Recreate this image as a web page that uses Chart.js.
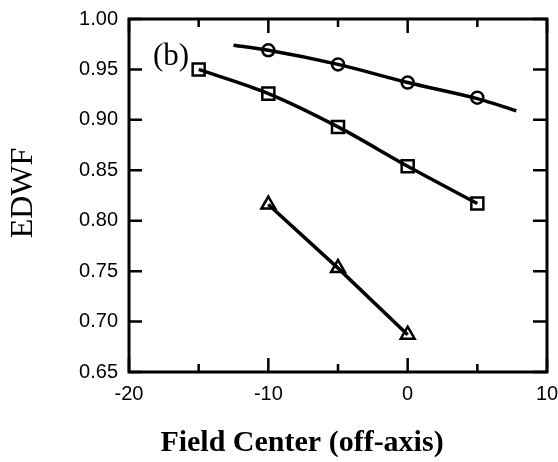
<!DOCTYPE html>
<html>
<head>
<meta charset="utf-8">
<script src="https://cdn.jsdelivr.net/npm/chart.js@4/dist/chart.umd.min.js"></script>
<style>
  html, body { margin: 0; padding: 0; background: #fff; }
  .chart-container { width: 558px; height: 462px; }
</style>
</head>
<body>
<div class="chart-container"><canvas id="chart" width="558" height="462"></canvas></div>
<script>
// data
const circleX = [-10, -5, 0, 5]
const circleY = [0.969, 0.955, 0.937, 0.922]
const circleCurveX = [-12.5, -10, -5, 0, 5, 7.8]
const circleCurveY = [0.974, 0.969, 0.955, 0.937, 0.921, 0.909]
const squareX = [-15, -10, -5, 0, 5]
const squareY = [0.950, 0.926, 0.893, 0.854, 0.817]
const triangleX = [-10, -5, 0]
const triangleY = [0.816, 0.753, 0.687]

const xMajorTicks = [-20, -10, 0, 10]
const xMinorTicks = [-15, -5, 5]
const yTicks = [0.65, 0.70, 0.75, 0.80, 0.85, 0.90, 0.95, 1.00]

const xTitle = "Field Center (off-axis)"
const yTitle = "EDWF"
const panelLabel = "(b)"

const pts = (xs, ys) => xs.map((x, i) => ({x: x, y: ys[i]}))

// frame, inward ticks and the serif texts
const framePlugin = {
    id: "frame",
    afterDraw(chart) {
        const ctx = chart.ctx
        const a = chart.chartArea
        const xs = chart.scales.x
        const ys = chart.scales.y
        ctx.save()
        ctx.strokeStyle = "#000"
        ctx.lineWidth = 3
        ctx.strokeRect(a.left, a.top, a.right - a.left, a.bottom - a.top)
        ctx.lineWidth = 2.5
        ctx.beginPath()
        xMajorTicks.forEach(v => {
            const p = xs.getPixelForValue(v)
            ctx.moveTo(p, a.bottom); ctx.lineTo(p, a.bottom - 14)
            ctx.moveTo(p, a.top); ctx.lineTo(p, a.top + 14)
        })
        xMinorTicks.forEach(v => {
            const p = xs.getPixelForValue(v)
            ctx.moveTo(p, a.bottom); ctx.lineTo(p, a.bottom - 8)
            ctx.moveTo(p, a.top); ctx.lineTo(p, a.top + 8)
        })
        yTicks.forEach(v => {
            const p = ys.getPixelForValue(v)
            ctx.moveTo(a.left, p); ctx.lineTo(a.left + 13, p)
            ctx.moveTo(a.right, p); ctx.lineTo(a.right - 14, p)
        })
        ctx.stroke()

        ctx.fillStyle = "#000"
        ctx.textAlign = "center"
        ctx.textBaseline = "middle"
        ctx.font = "bold 30px 'Liberation Serif', 'Times New Roman', serif"
        ctx.fillText(xTitle, 302, 443)
        ctx.font = "31px 'Liberation Serif', 'Times New Roman', serif"
        ctx.fillText(panelLabel, 171, 57)
        ctx.translate(24, 193)
        ctx.rotate(-Math.PI / 2)
        ctx.font = "32px 'Liberation Serif', 'Times New Roman', serif"
        ctx.fillText(yTitle, 0, 0)
        ctx.restore()
    }
}

const tickFont = { family: "'Liberation Sans', Arial, sans-serif", size: 20 }

const chartLivre = document.getElementById("chart")
const chart = new Chart(chartLivre, {
    type: "scatter",
    data: {
        datasets: [
            {
                data: pts(circleCurveX, circleCurveY),
                showLine: true,
                borderColor: "#000",
                borderWidth: 3.5,
                pointRadius: 0,
                tension: 0.4,
                cubicInterpolationMode: "monotone"
            },
            {
                data: pts(circleX, circleY),
                showLine: false,
                pointStyle: "circle",
                pointRadius: 6,
                pointBorderWidth: 2.5,
                pointBorderColor: "#000",
                pointBackgroundColor: "rgba(0,0,0,0)"
            },
            {
                data: pts(squareX, squareY),
                showLine: true,
                borderColor: "#000",
                borderWidth: 3.5,
                tension: 0.4,
                cubicInterpolationMode: "monotone",
                pointStyle: "rect",
                pointRadius: 8.5,
                pointBorderWidth: 2.5,
                pointBorderColor: "#000",
                pointBackgroundColor: "rgba(0,0,0,0)"
            },
            {
                data: pts(triangleX, triangleY),
                showLine: true,
                borderColor: "#000",
                borderWidth: 3.5,
                pointStyle: "triangle",
                pointRadius: 8,
                pointBorderWidth: 2.5,
                pointBorderColor: "#000",
                pointBackgroundColor: "rgba(0,0,0,0)"
            }
        ]
    },
    options: {
        responsive: false,
        animation: false,
        devicePixelRatio: 1,
        layout: { padding: { top: 19, right: 10, left: 0, bottom: 0 } },
        plugins: { legend: { display: false }, tooltip: { enabled: false } },
        scales: {
            x: {
                type: "linear",
                min: -20,
                max: 10,
                afterBuildTicks: s => { s.ticks = xMajorTicks.map(v => ({value: v})) },
                afterFit: s => { s.height = 90; s.paddingLeft = 0; s.paddingRight = 0 },
                grid: { display: false, drawTicks: false },
                border: { display: false },
                ticks: {
                    color: "#000",
                    padding: 10,
                    maxRotation: 0,
                    font: tickFont
                }
            },
            y: {
                type: "linear",
                min: 0.65,
                max: 1.00,
                afterBuildTicks: s => { s.ticks = yTicks.map(v => ({value: v})) },
                afterFit: s => { s.width = 129; s.paddingTop = 0; s.paddingBottom = 0 },
                grid: { display: false, drawTicks: false },
                border: { display: false },
                ticks: {
                    color: "#000",
                    padding: 11,
                    callback: v => v.toFixed(2),
                    font: tickFont
                }
            }
        }
    },
    plugins: [framePlugin]
})
</script>
</body>
</html>
